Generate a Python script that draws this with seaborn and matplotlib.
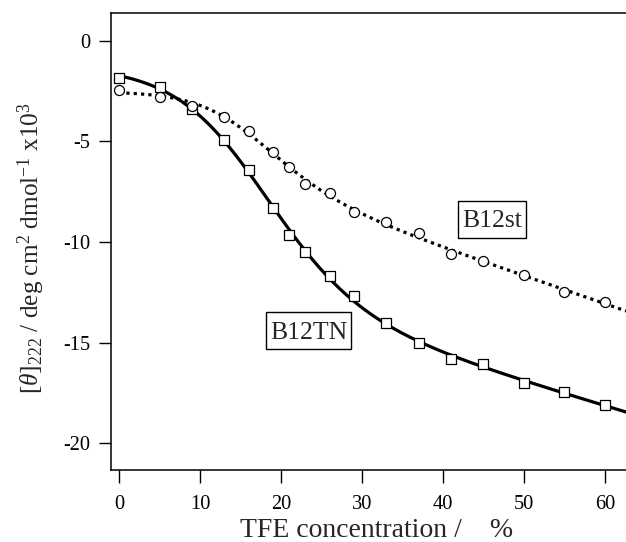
import numpy as np
import pandas as pd
import matplotlib
matplotlib.use("Agg")
import matplotlib.pyplot as plt
from matplotlib.patches import Rectangle
from matplotlib.transforms import IdentityTransform
import seaborn as sns

# ---- data ----
tfe_x = [0, 5, 9, 13, 16, 19, 21, 23, 26, 29, 33, 37, 41, 45, 50, 55, 60]
b12tn = [-1.83, -2.30, -3.38, -4.93, -6.40, -8.32, -9.67, -10.50, -11.68, -12.69,
         -14.05, -15.04, -15.84, -16.07, -17.00, -17.46, -18.11]
b12st = [-2.44, -2.77, -3.23, -3.80, -4.48, -5.54, -6.28, -7.13, -7.58, -8.49,
         -9.02, -9.57, -10.60, -10.93, -11.64, -12.50, -13.00]
x_ticks = [0, 10, 20, 30, 40, 50, 60]
y_ticks = [0, -5, -10, -15, -20]
label_tn = "B12TN"
label_st = "B12st"


def two_state_fit(x, y, xs):
    """Least-squares two-state (sigmoid + linear baselines) fit of the read points."""
    x = np.asarray(x, float)
    y = np.asarray(y, float)
    best = None
    for c in np.linspace(0, 50, 101):
        for d in np.linspace(1.5, 25, 95):
            L = 1 / (1 + np.exp(-(x - c) / d))
            A = np.column_stack([np.ones_like(x), L, x * L])
            coef, res, *_ = np.linalg.lstsq(A, y, rcond=None)
            err = np.sum((A @ coef - y) ** 2)
            if best is None or err < best[0]:
                best = (err, c, d, coef)
    _, c, d, coef = best
    Ls = 1 / (1 + np.exp(-(xs - c) / d))
    return np.column_stack([np.ones_like(xs), Ls, xs * Ls]) @ coef


sns.set_style("ticks")
plt.rcParams["font.family"] = ["Liberation Serif", "DejaVu Serif"]
plt.rcParams["mathtext.fontset"] = "custom"
plt.rcParams["mathtext.rm"] = "Liberation Serif"
plt.rcParams["mathtext.it"] = "Liberation Serif:italic"
plt.rcParams["mathtext.bf"] = "Liberation Serif:bold"

fig = plt.figure(figsize=(6.26, 5.42), dpi=100)
ax = fig.add_axes([111 / 626, 1 - 470 / 542, 1 - 111 / 626, (470 - 13) / 542])

xs = np.linspace(0, 62.6, 300)
fit = pd.DataFrame({
    "x": xs,
    "tn": two_state_fit(tfe_x, b12tn, xs),
    "st": two_state_fit(tfe_x, b12st, xs),
})
pts = pd.DataFrame({"x": tfe_x, "tn": b12tn, "st": b12st})

sns.lineplot(data=fit, x="x", y="tn", ax=ax, color="black", linewidth=2.3, zorder=2)
sns.lineplot(data=fit, x="x", y="st", ax=ax, color="black", linewidth=2.3,
             linestyle=(0, (1, 1.3)), zorder=2)
sns.scatterplot(data=pts, x="x", y="tn", ax=ax, marker="s", s=52, facecolor="white",
                edgecolor="black", linewidth=0.9, zorder=3)
sns.scatterplot(data=pts, x="x", y="st", ax=ax, marker="o", s=52, facecolor="white",
                edgecolor="black", linewidth=0.9, zorder=3)

ax.set_xlim(-0.99, 62.6)
ax.set_ylim(-21.34, 1.39)
ax.set_xticks(x_ticks)
ax.set_yticks(y_ticks)
ax.set_xticklabels([str(v) for v in x_ticks])
ax.set_yticklabels([str(v) for v in y_ticks])
ax.tick_params(axis="both", direction="out", length=9, width=1, labelsize=14.7,
               color="black", labelcolor="black")
ax.tick_params(axis="x", pad=9)
ax.tick_params(axis="y", pad=6)

for side in ["left", "top", "bottom"]:
    ax.spines[side].set_visible(True)
    ax.spines[side].set_linewidth(1.1)
    ax.spines[side].set_color("black")
ax.spines["right"].set_visible(False)

ax.set_xlabel("TFE concentration /    %", fontsize=20)
ax.set_ylabel(r"$[\mathit{\theta}]_{222}$ / deg cm$^{2}$ dmol$^{-1}$ x10$^{3}$",
              fontsize=18.2)
ax.xaxis.set_label_coords(0.5155, -0.104)
ax.yaxis.set_label_coords(-0.125, 0.486)

# boxed series labels
t_st = ax.text(46.05, -9.27, label_st, fontsize=18.5, ha="center", va="baseline", zorder=5)
t_tn = ax.text(23.4, -14.81, label_tn, fontsize=18.5, ha="center", va="baseline", zorder=5)
fig.canvas.draw()
renderer = fig.canvas.get_renderer()
for t in (t_st, t_tn):
    bb = t.get_window_extent(renderer)
    _, base = ax.transData.transform(t.get_position())
    rect = Rectangle((bb.x0 - 4, base - 10.7), bb.width + 8, 37,
                     transform=IdentityTransform(), facecolor="white",
                     edgecolor="black", linewidth=1.0, zorder=4)
    ax.add_artist(rect)

fig.savefig("out.png", dpi=100)
